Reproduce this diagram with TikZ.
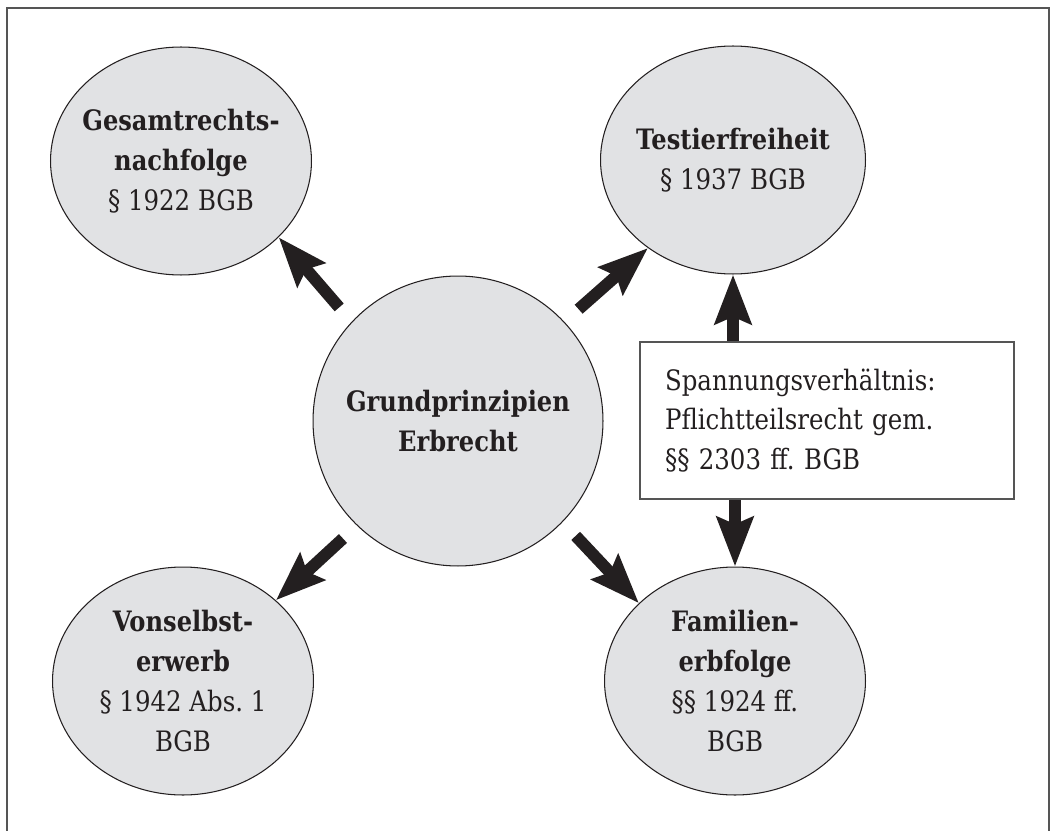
\documentclass[tikz,border=0pt]{standalone}
\usepackage{fontspec}
\setmainfont{DejaVu Serif}[FakeStretch=0.87, BoldFeatures={FakeStretch=0.86}]
\frenchspacing
\usetikzlibrary{arrows.meta, positioning, shapes.geometric, calc}
\definecolor{cink}{HTML}{231F20}
\definecolor{cfill}{HTML}{E1E2E4}
\definecolor{cframe}{HTML}{555555}
\tikzset{
  every picture/.style={font=\fontsize{16}{22.7}\selectfont, line width=0.6pt},
  bubble/.style={ellipse, draw=cink, fill=cfill, text=cink, align=center, inner sep=-0.6cm, minimum width=5.22cm, minimum height=4.56cm},
  hub/.style={circle, draw=cink, fill=cfill, text=cink, align=center, inner sep=0pt, minimum size=5.8cm, font=\fontsize{16}{22.7}\selectfont\bfseries},
  notebox/.style={draw=cframe, line width=1.1pt, text=cink, align=left, text width=6.48cm, inner xsep=0.5cm, minimum width=7.48cm, minimum height=3.14cm},
  fat/.style={-{Stealth[length=28pt, width=20.5pt, inset=4pt]}, draw=cink, line width=6.8pt},
}

\begin{document}
\begin{tikzpicture}[x=0.02cm, y=-0.02cm]
  \useasboundingbox (0,0) rectangle (1051,831);
  \draw[cframe, line width=1.2pt] (7,831) |- (1049,8) -- (1049,831);
  \node[hub] (prinz) at (458,421) {Grundprinzipien\\Erbrecht};
  \node[bubble] (gesamt) at (181,161) {\textbf{Gesamtrechts-}\\\textbf{nachfolge}\\§ 1922 BGB};
  \node[bubble, minimum width=5.3cm] (testier) at (733,160) {\textbf{Testierfreiheit}\\§ 1937 BGB};
  \node[bubble] (vonselbst) at (183,681) {\textbf{Vonselbst-}\\\textbf{erwerb}\\§ 1942 Abs. 1\\BGB};
  \node[bubble] (familie) at (735,681) {\textbf{Familien-}\\\textbf{erbfolge}\\§§ 1924 ff.\\BGB};
  \node[notebox] (spann) at (827,420.5) {Spannungsverhältnis:\\Pflichtteilsrecht gem.\\§§ 2303 ff. BGB};
  % arrows out of the hub
  \foreach \a/\b/\c in {137/gesamt/-38, 43/testier/-134, 226/vonselbst/41, -44/familie/141}
    \draw[fat, shorten <=10.8pt] (prinz.\a) -- (\b.\c);
  \draw[fat] (spann.north -| testier.south) -- (testier.south);
  \draw[fat] (spann.south -| familie.north) -- (familie.north);
\end{tikzpicture}
\end{document}
